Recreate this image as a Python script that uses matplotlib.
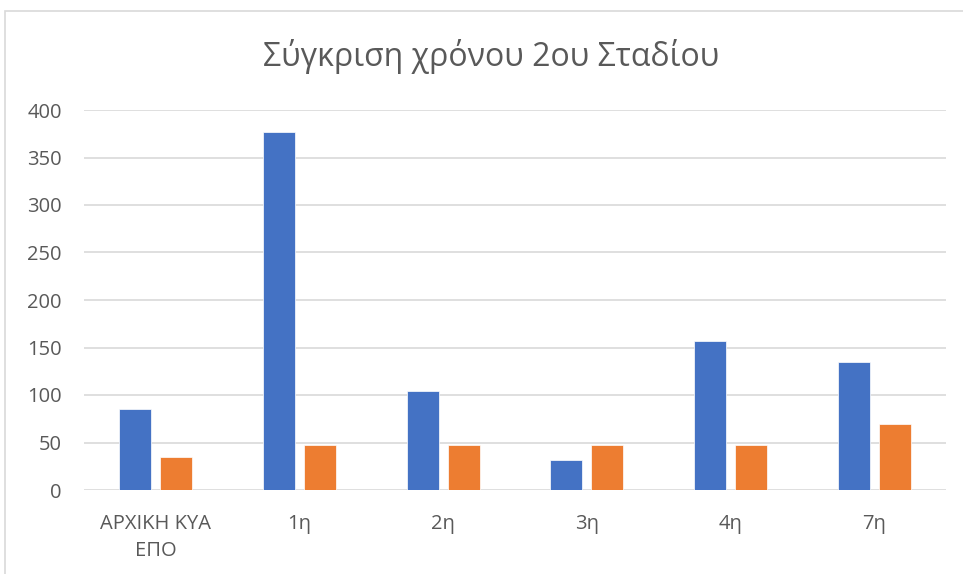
import matplotlib
matplotlib.use("Agg")
import matplotlib.pyplot as plt
from matplotlib.patches import Rectangle
import numpy as np

categories = ["ΑΡΧΙΚΗ ΚΥΑ\nΕΠΟ", "1η", "2η", "3η", "4η", "7η"]
series_a = [85, 377, 104, 32, 157, 135]
series_b = [35, 47, 47, 47, 47, 70]
yticks = [0, 50, 100, 150, 200, 250, 300, 350, 400]
title = "Σύγκριση χρόνου 2ου Σταδίου"

plt.rcParams['font.family'] = ['Open Sans', 'DejaVu Sans']

W, H = 963, 574
fig = plt.figure(figsize=(W / 100, H / 100), dpi=100)
fig.patches.append(Rectangle((5 / W, -0.1), 1.2, 1.1 - 11 / H, transform=fig.transFigure,
                             fill=False, edgecolor="#D9D9D9", linewidth=1.2))

ax = fig.add_axes([84 / W, 1 - 490 / H, (946 - 84) / W, (490 - 110) / H])
x = np.arange(len(categories))
bw = 0.223
off = 0.143
ax.bar(x - off, series_a, bw, color="#4472C4", edgecolor="white", linewidth=0.5, zorder=3)
ax.bar(x + off, series_b, bw, color="#ED7D31", edgecolor="white", linewidth=0.5, zorder=3)

ax.set_xlim(-0.5, len(categories) - 0.5)
ax.set_ylim(0, 400)
ax.set_yticks(yticks)
ax.set_xticks(x)
ax.set_xticklabels(categories, fontsize=14.5, color="#595959", linespacing=1.5)
ax.tick_params(axis='y', labelsize=14.5, labelcolor="#595959", length=0, pad=16)
ax.tick_params(axis='x', length=0, pad=17)
for lab in ax.get_yticklabels():
    lab.set_horizontalalignment('right')
ax.grid(axis='y', color="#D9D9D9", linewidth=1.2, zorder=0)
for s in ax.spines.values():
    s.set_visible(False)

fig.text(491 / W, 1 - 57 / H, title, ha='center', va='center', fontsize=23, color="#595959")

fig.savefig("out.png", dpi=100)
